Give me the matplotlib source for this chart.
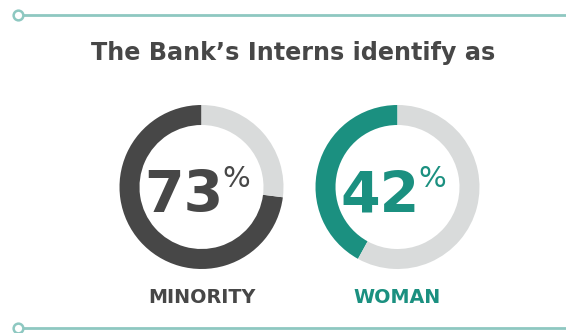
import matplotlib
matplotlib.use("Agg")
import matplotlib.pyplot as plt

# data
labels = ["MINORITY", "WOMAN"]
shares = [73, 42]
fill_colors = ["#474747", "#1b9080"]
label_colors = ["#474747", "#1b9080"]
track_color = "#d9dbdb"
line_color = "#8ec8c1"
title = "The Bank\u2019s Interns identify as"

W, H = 566, 333
fig = plt.figure(figsize=(W / 100, H / 100), dpi=100)
ax = fig.add_axes([0, 0, 1, 1])

centers_x = [201.5, 397.5]
center_y = H - 187
radius = 82
ring = 20

for i, (share, col) in enumerate(zip(shares, fill_colors)):
    ax.pie([share, 100 - share], colors=[col, track_color], startangle=90,
           counterclock=True, center=(centers_x[i], center_y), radius=radius,
           wedgeprops=dict(width=ring, linewidth=0))
    cx = centers_x[i]
    ax.text(cx + 22, H - 212, str(share), ha="right", va="baseline",
            fontsize=41, fontweight="bold", color=col, family="DejaVu Sans")
    ax.text(cx + 21, H - 165, "%", ha="left", va="top",
            fontsize=21, fontweight="normal", color=col, family="DejaVu Sans")
    ax.text(cx, H - 297.5, labels[i], ha="center", va="center",
            fontsize=13.8, fontweight="bold", color=label_colors[i])

ax.text(293.5, H - 53, title, ha="center", va="center", fontsize=17.2,
        fontweight="bold", color="#474747")

# decorative rules
for y in [15, 328]:
    ax.plot([18, W], [H - y, H - y], color=line_color, lw=2, solid_capstyle="butt", zorder=1)
    ax.plot([18], [H - y], marker="o", ms=7, mfc="white", mec=line_color, mew=1.8, zorder=2)

ax.set_xlim(0, W)
ax.set_ylim(0, H)
ax.set_aspect("equal")
ax.axis("off")

fig.savefig("out.png", dpi=100, facecolor="white")
